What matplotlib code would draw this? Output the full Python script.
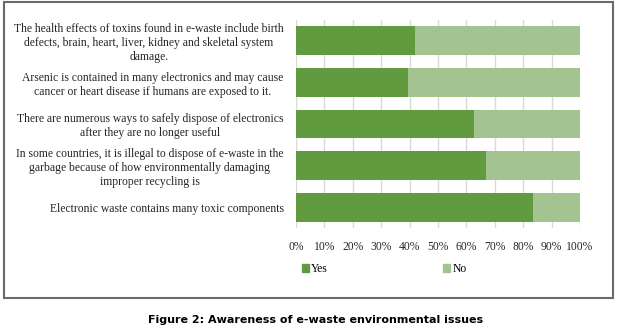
import matplotlib
matplotlib.use("Agg")
import matplotlib.pyplot as plt
from matplotlib.patches import Rectangle, Patch
import numpy as np

categories = [
    "The health effects of toxins found in e-waste include birth\ndefects, brain, heart, liver, kidney and skeletal system\ndamage.",
    "Arsenic is contained in many electronics and may cause\ncancer or heart disease if humans are exposed to it.",
    "There are numerous ways to safely dispose of electronics\nafter they are no longer useful",
    "In some countries, it is illegal to dispose of e-waste in the\ngarbage because of how environmentally damaging\nimproper recycling is",
    "Electronic waste contains many toxic components",
]
yes_vals = [42, 39.5, 62.7, 67, 83.5]
no_vals = [100 - v for v in yes_vals]
xticks = [0, 10, 20, 30, 40, 50, 60, 70, 80, 90, 100]
xticklabels = [f"{t}%" for t in xticks]

W, H = 618, 333
fig = plt.figure(figsize=(W / 100, H / 100), dpi=100)
fig.patch.set_facecolor("white")

serif = ["Liberation Serif", "DejaVu Serif"]
ax = fig.add_axes([296 / W, 1 - 228 / H, (580 - 296) / W, (228 - 20) / H])
y = np.arange(len(categories))
ax.barh(y, yes_vals, height=0.69, color="#629a3f", label="Yes", zorder=3)
ax.barh(y, no_vals, left=yes_vals, height=0.69, color="#a3c490", label="No", zorder=3)
ax.set_ylim(len(categories) - 0.5, -0.5)
ax.set_xlim(0, 100)
ax.set_yticks(y)
ax.set_yticklabels(categories, fontsize=8.4, family=serif, color="#262626",
                   multialignment="center", linespacing=1.22)
ax.set_xticks(xticks)
ax.set_xticklabels(xticklabels, fontsize=8.4, family=serif, color="#262626")
ax.tick_params(axis="both", length=0)
ax.tick_params(axis="y", pad=9)
ax.tick_params(axis="x", pad=9)
for s in ax.spines.values():
    s.set_visible(False)
ax.grid(axis="x", color="#d9d9d9", linewidth=1, zorder=0)
ax.set_axisbelow(True)

handles = [Patch(color="#629a3f", label="Yes"), Patch(color="#a3c490", label="No")]
fig.legend(handles=handles, loc="center left", bbox_to_anchor=(291 / W, 1 - 269 / H),
           ncol=2, frameon=False, prop={"family": serif, "size": 8.4},
           handlelength=0.6, handleheight=0.6, handletextpad=0.2, columnspacing=9.9)

fig.patches.append(Rectangle((4 / W, 1 - 298 / H), (613 - 4) / W, (298 - 2) / H,
                             transform=fig.transFigure, fill=False,
                             edgecolor="#6a6a6a", linewidth=1.5))

fig.text(316 / W, 1 - 320 / H, "Figure 2: Awareness of e-waste environmental issues",
         ha="center", va="center", fontsize=8.0, fontweight="bold", family="DejaVu Sans")

fig.savefig("out.png", dpi=100)
